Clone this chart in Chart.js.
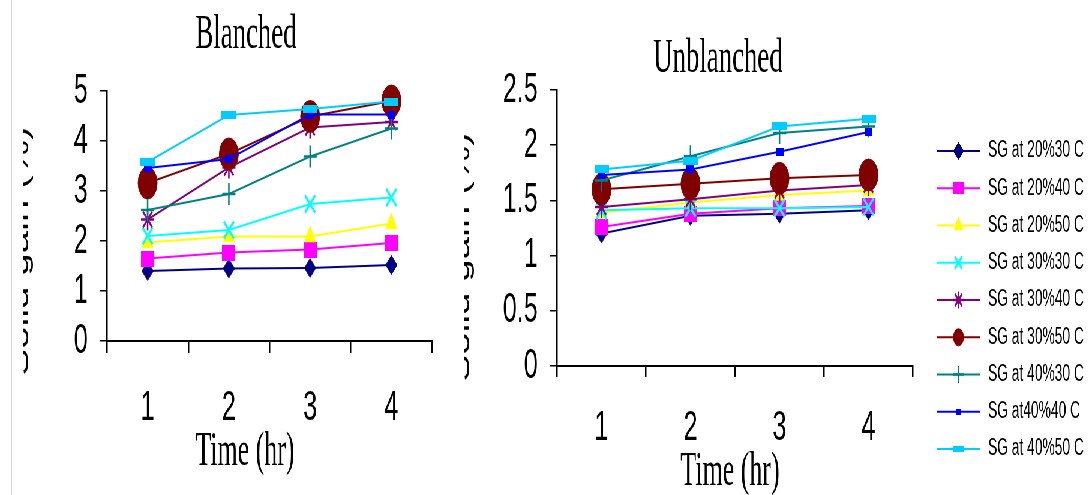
<!DOCTYPE html>
<html lang="en">
<head>
<meta charset="UTF-8">
<meta name="viewport" content="width=device-width, initial-scale=1.0">
<title>Solid gain - Blanched / Unblanched</title>
<script src="https://cdn.jsdelivr.net/npm/chart.js"></script>
<style>
  html, body { margin: 0; padding: 0; background: #fff; overflow: hidden; }
  /* the original picture is squeezed sideways, so draw wide and compress */
  #stage { position: absolute; left: 0; top: 0; width: 1820px; height: 495px;
           transform: scaleX(0.6); transform-origin: 0 0; }
  .panel { position: absolute; left: 0; top: 0; width: 1820px; height: 495px; }
  .mask { position: absolute; top: 0; height: 495px; background: #fff; }
</style>
</head>
<body>
<div id="stage">
  <div class="panel"><canvas id="blanchedChart"></canvas></div>
  <div class="panel"><canvas id="unblanchedChart"></canvas></div>
</div>
<!-- cropped edges of the pasted figures -->
<div class="mask" style="left:0;width:23px;">
  <div style="position:absolute;left:11px;top:0;width:1px;height:495px;background:#d6d6d6"></div>
</div>
<div class="mask" style="left:440px;width:24px;"></div>

<script>
const SX = 0.6;   // horizontal squeeze of #stage

const hours = ['1', '2', '3', '4'];

const seriesLabels = [
  'SG at 20%30 C', 'SG at 20%40 C', 'SG at 20%50 C',
  'SG at 30%30 C', 'SG at 30%40 C', 'SG at 30%50 C',
  'SG at 40%30 C', 'SG at40%40 C', 'SG at 40%50 C'
];

const seriesColors = [
  '#000080', '#FF00FF', '#FFFF00',
  '#00FFFF', '#800080', '#800000',
  '#008080', '#0000FF', '#00CCFF'
];

// solid gain (%) at 1..4 hr, blanched samples
const blanchedValues = [
  [1.40, 1.45, 1.46, 1.52],
  [1.65, 1.77, 1.83, 1.96],
  [1.97, 2.09, 2.09, 2.35],
  [2.10, 2.22, 2.74, 2.87],
  [2.43, 3.47, 4.27, 4.38],
  [3.16, 3.74, 4.49, 4.80],
  [2.62, 2.94, 3.69, 4.25],
  [3.46, 3.64, 4.53, 4.53],
  [3.58, 4.52, 4.64, 4.79]
];

// solid gain (%) at 1..4 hr, unblanched samples
const unblanchedValues = [
  [1.20, 1.36, 1.38, 1.41],
  [1.26, 1.38, 1.43, 1.45],
  [1.39, 1.48, 1.55, 1.59],
  [1.41, 1.43, 1.43, 1.44],
  [1.44, 1.51, 1.59, 1.64],
  [1.60, 1.65, 1.70, 1.73],
  [1.68, 1.90, 2.11, 2.17],
  [1.73, 1.78, 1.94, 2.12],
  [1.78, 1.86, 2.17, 2.24]
];

const blanchedTicks = { min: 0, max: 5, step: 1 };
const unblanchedTicks = { min: 0, max: 2.5, step: 0.5 };

function makeBox(w, h, color) {
    const c = document.createElement('canvas');
    c.width = w; c.height = h;
    const g = c.getContext('2d');
    g.fillStyle = color;
    g.fillRect(0, 0, w, h);
    return c;
}

const markerStyles = [
  'rectRot', makeBox(22, 16, '#FF00FF'), 'triangle',
  'crossRot', 'star', 'circle',
  'cross', makeBox(13, 8, '#0000FF'), makeBox(24, 8, '#00CCFF')
];
const markerRadii = [9.5, 8, 10.5, 12, 11, 16, 11, 5, 6];
const markerBorders = [1, 1, 1, 3, 2.5, 1, 2.5, 1, 1];

const SANS = '"Liberation Sans", Arial, sans-serif';
const SERIF = '"Liberation Serif", "Times New Roman", serif';

function buildDatasets(values) {
    return values.map((row, i) => ({
        label: seriesLabels[i],
        data: row,
        borderColor: seriesColors[i],
        backgroundColor: seriesColors[i],
        pointBackgroundColor: seriesColors[i],
        pointBorderColor: seriesColors[i],
        pointStyle: markerStyles[i],
        pointRadius: markerRadii[i],
        pointBorderWidth: markerBorders[i],
        borderWidth: 2,
        tension: 0,
        clip: false,
        order: values.length - i   // later series on top, like the original
    }));
}

// free text (titles) placed in page pixels
const panelText = {
    id: 'panelText',
    afterDraw(chart, args, opts) {
        const ctx = chart.ctx;
        (opts.items || []).forEach(it => {
            ctx.save();
            ctx.font = it.font;
            ctx.fillStyle = '#000';
            ctx.textAlign = 'center';
            ctx.textBaseline = 'alphabetic';
            ctx.translate(it.x / SX, it.y);
            if (it.rotate) ctx.rotate(it.rotate);
            if (it.sx) ctx.scale(it.sx, 1);
            ctx.fillText(it.text, 0, 0);
            ctx.restore();
        });
    }
};

// legend with a short line through the marker
const sideLegend = {
    id: 'sideLegend',
    afterDraw(chart, args, opts) {
        if (!opts.display) return;
        const ctx = chart.ctx;
        chart.data.datasets.forEach((ds, i) => {
            const y = opts.top + i * opts.step;
            const x1 = opts.lineStart / SX, x2 = opts.lineEnd / SX;
            const cx = (x1 + x2) / 2;
            ctx.save();
            ctx.strokeStyle = ds.borderColor;
            ctx.lineWidth = 2;
            ctx.beginPath();
            ctx.moveTo(x1, y);
            ctx.lineTo(x2, y);
            ctx.stroke();
            const st = ds.pointStyle;
            if (st instanceof HTMLCanvasElement) {
                const k = 0.75;
                ctx.drawImage(st, cx - st.width * k / 2, y - st.height * k / 2, st.width * k, st.height * k);
            } else {
                ctx.fillStyle = ds.pointBackgroundColor;
                ctx.strokeStyle = ds.pointBorderColor;
                ctx.lineWidth = ds.pointBorderWidth;
                Chart.helpers.drawPoint(ctx, {
                    pointStyle: st,
                    radius: Math.min(ds.pointRadius, 8.5),
                    rotation: 0,
                    borderWidth: ds.pointBorderWidth
                }, cx, y);
            }
            ctx.fillStyle = '#000';
            ctx.font = opts.font;
            ctx.textAlign = 'left';
            ctx.textBaseline = 'middle';
            ctx.fillText(ds.label, opts.textStart / SX, y);
            ctx.restore();
        });
    }
};

function makeOptions(cfg) {
    return {
        responsive: true,
        maintainAspectRatio: false,
        animation: false,
        events: [],
        layout: { padding: cfg.padding },
        plugins: {
            legend: { display: false },
            tooltip: { enabled: false },
            title: { display: false },
            panelText: { items: cfg.texts },
            sideLegend: cfg.legend || { display: false }
        },
        scales: {
            x: {
                type: 'category',
                offset: true,
                grid: {
                    offset: true,
                    drawOnChartArea: false,
                    drawTicks: true,
                    tickLength: cfg.xTickLength,
                    lineWidth: 2.5,
                    color: '#000'
                },
                border: { display: true, color: '#000', width: 2 },
                ticks: {
                    color: '#000',
                    padding: cfg.xLabelPad,
                    maxRotation: 0,
                    font: { family: SANS, size: 42, lineHeight: 1 }
                },
                afterFit(scale) { scale.height = cfg.xHeight; }
            },
            y: {
                min: cfg.ticks.min,
                max: cfg.ticks.max,
                grid: {
                    drawOnChartArea: false,
                    drawTicks: true,
                    tickLength: 12,
                    lineWidth: 1.5,
                    color: '#000'
                },
                border: { display: true, color: '#000', width: 2.5 },
                ticks: {
                    stepSize: cfg.ticks.step,
                    color: '#000',
                    padding: 20,
                    font: { family: SANS, size: 42, lineHeight: 1 },
                    callback: v => String(Number(v.toFixed(1)))
                },
                afterFit(scale) { scale.width = cfg.yWidth; }
            }
        }
    };
}

new Chart(document.getElementById('blanchedChart'), {
    type: 'line',
    data: { labels: hours, datasets: buildDatasets(blanchedValues) },
    options: makeOptions({
        padding: { left: 0, right: 1820 - 432 / SX, top: 91, bottom: 0 },
        yWidth: 107 / SX,
        xHeight: 495 - 341,
        xTickLength: 12,
        xLabelPad: 34,
        ticks: blanchedTicks,
        texts: [
            { text: 'Blanched', x: 246, y: 48, font: '48px ' + SERIF, sx: 0.93 },
            { text: 'Time (hr)', x: 245, y: 465, font: '48px ' + SERIF, sx: 0.9 },
            { text: 'Solid gain (%)', x: 28, y: 251, font: '40px ' + SANS, rotate: -Math.PI / 2 }
        ]
    }),
    plugins: [panelText, sideLegend]
});

new Chart(document.getElementById('unblanchedChart'), {
    type: 'line',
    data: { labels: hours, datasets: buildDatasets(unblanchedValues) },
    options: makeOptions({
        padding: { left: 700, right: 1820 - 913 / SX, top: 90, bottom: 0 },
        yWidth: 557 / SX - 700,
        xHeight: 495 - 366,
        xTickLength: 11,
        xLabelPad: 30,
        ticks: unblanchedTicks,
        texts: [
            { text: 'Unblanched', x: 718, y: 72, font: '48px ' + SERIF, sx: 0.93 },
            { text: 'Time (hr)', x: 730, y: 485, font: '48px ' + SERIF, sx: 0.9 },
            { text: 'Solid gain (%)', x: 469, y: 257, font: '40px ' + SANS, rotate: -Math.PI / 2 }
        ],
        legend: {
            display: true,
            top: 151,
            step: 37.25,
            lineStart: 937,
            lineEnd: 980,
            textStart: 988,
            font: '23px ' + SANS
        }
    }),
    plugins: [panelText, sideLegend]
});
</script>
</body>
</html>
